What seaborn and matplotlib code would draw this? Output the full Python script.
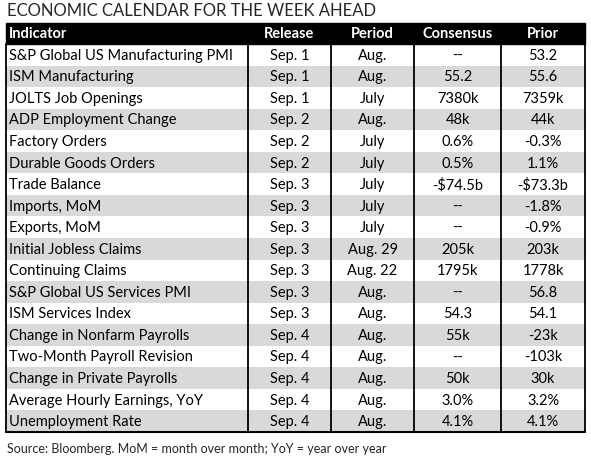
import matplotlib
matplotlib.use("Agg")
import matplotlib.pyplot as plt
import seaborn as sns
from matplotlib.patches import Rectangle

sns.set_theme(style="white")
plt.rcParams['font.family'] = ['Lato', 'DejaVu Sans']

columns = ["Indicator", "Release", "Period", "Consensus", "Prior"]
indicators = ["S&P Global US Manufacturing PMI", "ISM Manufacturing", "JOLTS Job Openings",
              "ADP Employment Change", "Factory Orders", "Durable Goods Orders", "Trade Balance",
              "Imports, MoM", "Exports, MoM", "Initial Jobless Claims", "Continuing Claims",
              "S&P Global US Services PMI", "ISM Services Index", "Change in Nonfarm Payrolls",
              "Two-Month Payroll Revision", "Change in Private Payrolls",
              "Average Hourly Earnings, YoY", "Unemployment Rate"]
release = ["Sep. 1", "Sep. 1", "Sep. 1", "Sep. 2", "Sep. 2", "Sep. 2", "Sep. 3", "Sep. 3", "Sep. 3",
           "Sep. 3", "Sep. 3", "Sep. 3", "Sep. 3", "Sep. 4", "Sep. 4", "Sep. 4", "Sep. 4", "Sep. 4"]
period = ["Aug.", "Aug.", "July", "Aug.", "July", "July", "July", "July", "July", "Aug. 29",
          "Aug. 22", "Aug.", "Aug.", "Aug.", "Aug.", "Aug.", "Aug.", "Aug."]
consensus = ["--", "55.2", "7380k", "48k", "0.6%", "0.5%", "-$74.5b", "--", "--", "205k",
             "1795k", "--", "54.3", "55k", "--", "50k", "3.0%", "4.1%"]
prior = ["53.2", "55.6", "7359k", "44k", "-0.3%", "1.1%", "-$73.3b", "-1.8%", "-0.9%", "203k",
         "1778k", "56.8", "54.1", "-23k", "-103k", "30k", "3.2%", "4.1%"]

fig = plt.figure(figsize=(5.91, 4.60), dpi=100)
ax = fig.add_axes([0, 0, 1, 1])
ax.set_xlim(0, 591)
ax.set_ylim(460, 0)
ax.axis("off")

edges = [6, 248, 331, 414, 501, 585]
top, head_h, row_h = 24, 21, 21.55
fs = 10.5

ax.text(7, 11, "ECONOMIC CALENDAR FOR THE WEEK AHEAD", fontsize=12, va="center", ha="left")
ax.add_patch(Rectangle((edges[0], top), edges[-1] - edges[0], head_h, color="black"))
for i, c in enumerate(columns):
    if i == 0:
        ax.text(edges[0] + 3, top + head_h / 2, c, color="white", fontsize=fs, weight="bold", va="center")
    else:
        ax.text((edges[i] + edges[i + 1]) / 2, top + head_h / 2, c, color="white", fontsize=fs,
                weight="bold", va="center", ha="center")

y0 = top + head_h
for r in range(len(indicators)):
    y = y0 + r * row_h
    if r % 2 == 1:
        ax.add_patch(Rectangle((edges[0], y), edges[-1] - edges[0], row_h, color="#d9d9d9", lw=0))
    vals = [indicators[r], release[r], period[r], consensus[r], prior[r]]
    for i, v in enumerate(vals):
        if i == 0:
            ax.text(edges[0] + 3, y + row_h / 2, v, fontsize=fs, va="center", color="black")
        else:
            ax.text((edges[i] + edges[i + 1]) / 2, y + row_h / 2, v, fontsize=fs, va="center",
                    ha="center", color="black")

bottom = y0 + len(indicators) * row_h
for x in edges:
    ax.plot([x, x], [y0, bottom], color="black", lw=1.3)
ax.plot([edges[0], edges[-1]], [bottom, bottom], color="black", lw=1.5)

ax.text(7, bottom + 16, "Source: Bloomberg. MoM = month over month; YoY = year over year",
        fontsize=9, va="center", ha="left")

fig.savefig("out.png", dpi=100)
